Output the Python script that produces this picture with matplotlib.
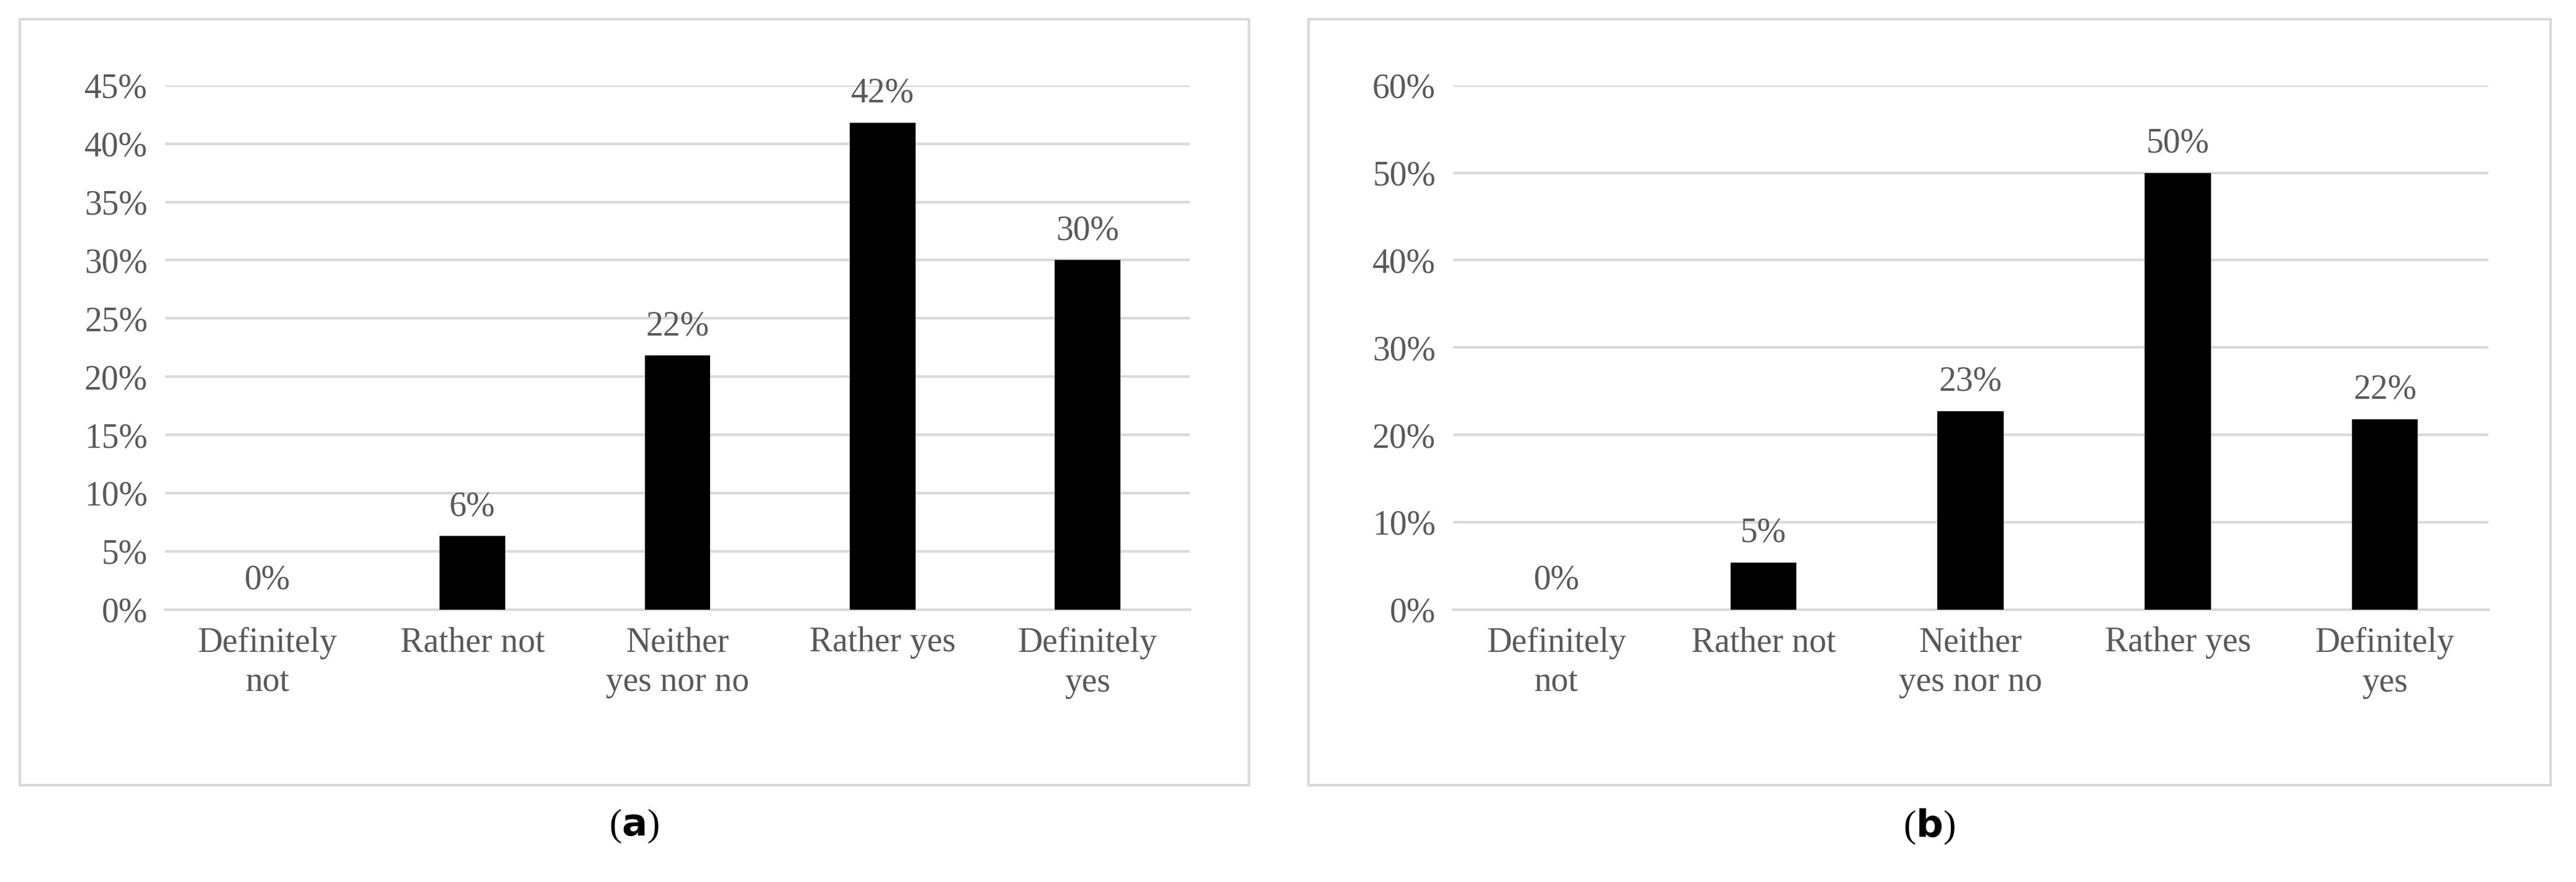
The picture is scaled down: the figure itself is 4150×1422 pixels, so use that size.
import matplotlib.pyplot as plt
from matplotlib.patches import Rectangle

categories = ['Definitely\nnot', 'Rather not', 'Neither\nyes nor no', 'Rather yes', 'Definitely\nyes']
values_a = [0.0, 6.3, 21.8, 41.8, 30.0]
labels_a = ['0%', '6%', '22%', '42%', '30%']
values_b = [0.0, 5.4, 22.7, 50.0, 21.8]
labels_b = ['0%', '5%', '23%', '50%', '22%']

plt.rcParams['font.family'] = ['Liberation Serif', 'DejaVu Serif']
grey = '#595959'

fig = plt.figure(figsize=(41.5, 14.22), dpi=100)

panels = [
    (values_a, labels_a, 45, 5, [0.064, 0.309, 0.398, 0.594], [0.0077, 0.110, 0.477, 0.868], 'a'),
    (values_b, labels_b, 60, 10, [0.564, 0.309, 0.402, 0.594], [0.508, 0.110, 0.482, 0.868], 'b'),
]

for vals, labs, ymax, step, rect, box, letter in panels:
    fig.patches.append(Rectangle((box[0], box[1]), box[2], box[3], transform=fig.transFigure,
                                 fill=False, edgecolor='#d9d9d9', linewidth=3))
    ax = fig.add_axes(rect)
    x = range(len(categories))
    ax.bar(x, vals, width=0.32, color='black', zorder=3)
    for xi, v, l in zip(x, vals, labs):
        ax.text(xi, v + ymax * 0.025, l, ha='center', va='bottom', fontsize=40, color=grey)
    ax.set_xlim(-0.5, 4.5)
    ax.set_ylim(0, ymax)
    ax.set_yticks(range(0, ymax + 1, step))
    ax.set_yticklabels([f'{t}%' for t in range(0, ymax + 1, step)])
    ax.set_xticks(list(x))
    ax.set_xticklabels(categories, linespacing=1.3)
    ax.tick_params(length=0, labelsize=40, labelcolor=grey, pad=20)
    ax.grid(axis='y', color='#d9d9d9', linewidth=3, zorder=0)
    for s in ['top', 'right', 'left']:
        ax.spines[s].set_visible(False)
    ax.spines['bottom'].set_color('#d9d9d9')
    ax.spines['bottom'].set_linewidth(3)
    cx = box[0] + box[2] / 2
    fig.text(cx, 0.063, f'($\\mathbf{{{letter}}}$)', ha='center', va='center', fontsize=44)

fig.savefig('out.png')
